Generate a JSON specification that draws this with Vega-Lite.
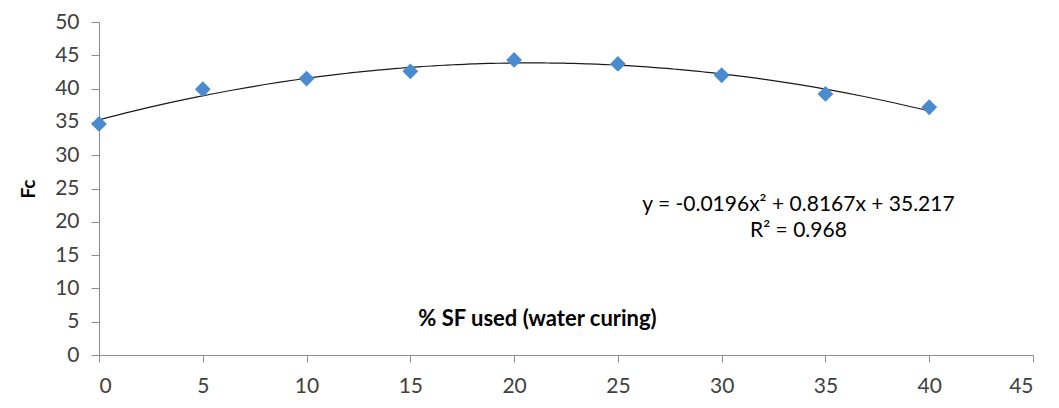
{
  "$schema": "https://vega.github.io/schema/vega-lite/v6.json",
  "width": 934,
  "height": 333,
  "autosize": "none",
  "padding": {"left": 99, "top": 22, "right": 26, "bottom": 53},
  "background": "white",
  "config": {
    "view": {"stroke": null},
    "font": "Lato",
    "axis": {
      "grid": false,
      "domainColor": "#8c8c8c",
      "tickColor": "#8c8c8c",
      "tickSize": 8,
      "labelFontSize": 21,
      "labelColor": "#404040",
      "labelFont": "Lato",
      "labelOverlap": false,
      "titleFont": "Lato",
      "titleFontWeight": "bold",
      "titleColor": "#000000"
    }
  },
  "datasets": {
    "points": [
      {"sf": 0, "fc": 34.7},
      {"sf": 5, "fc": 39.9},
      {"sf": 10, "fc": 41.5},
      {"sf": 15, "fc": 42.6},
      {"sf": 20, "fc": 44.3},
      {"sf": 25, "fc": 43.7},
      {"sf": 30, "fc": 42.0},
      {"sf": 35, "fc": 39.2},
      {"sf": 40, "fc": 37.2}
    ],
    "notes": [
      {"sf": 33.7, "fc": 22.5, "label": "y = -0.0196x² + 0.8167x + 35.217"},
      {"sf": 33.7, "fc": 18.6, "label": "R² = 0.968"}
    ]
  },
  "encoding": {
    "x": {
      "field": "sf",
      "type": "quantitative",
      "scale": {"domain": [0, 45], "nice": false, "zero": true},
      "axis": {
        "values": [0, 5, 10, 15, 20, 25, 30, 35, 40, 45],
        "tickSize": 7,
        "labelPadding": 13,
        "labelOverlap": false,
        "title": "% SF used (water curing)",
        "titleFontSize": 22,
        "titleX": 438,
        "titleY": -37,
        "titleBaseline": "middle"
      }
    },
    "y": {
      "field": "fc",
      "type": "quantitative",
      "scale": {"domain": [0, 50], "nice": false},
      "axis": {
        "values": [0, 5, 10, 15, 20, 25, 30, 35, 40, 45, 50],
        "labelPadding": 12,
        "labelOverlap": false,
        "title": "Fc",
        "titleFontSize": 19,
        "titlePadding": 16
      }
    }
  },
  "layer": [
    {
      "data": {"name": "points"},
      "transform": [
        {"regression": "fc", "on": "sf", "method": "poly", "order": 2, "extent": [0, 40]}
      ],
      "mark": {"type": "line", "color": "#1a1a1a", "strokeWidth": 1.2, "interpolate": "monotone"}
    },
    {
      "data": {"name": "points"},
      "mark": {"type": "point", "shape": "diamond", "filled": true, "size": 250, "color": "#4a8bd0", "opacity": 1}
    },
    {
      "data": {"name": "notes"},
      "mark": {"type": "text", "fontSize": 21, "color": "#000000", "align": "center", "baseline": "middle"},
      "encoding": {
        "text": {"field": "label"}
      }
    }
  ]
}
